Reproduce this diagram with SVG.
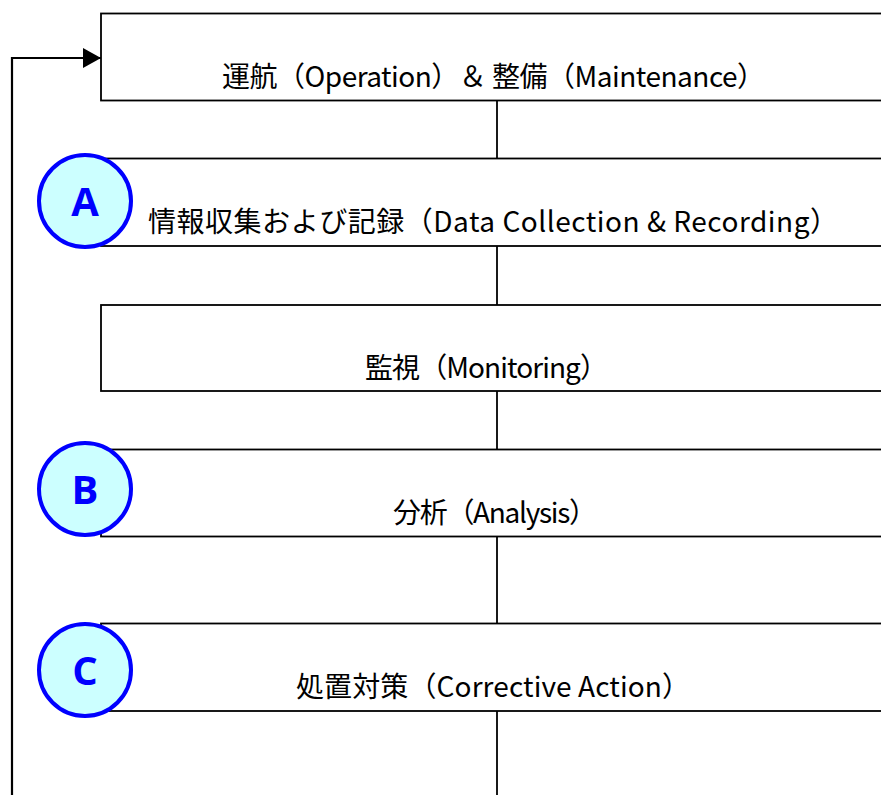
<svg xmlns="http://www.w3.org/2000/svg" width="881" height="795" viewBox="0 0 881 795">
<defs>
<style>
.box{fill:#fff;stroke:#000;stroke-width:1.8}
.lbl{font-family:"Noto Sans CJK JP","Noto Sans",sans-serif;font-size:28px;fill:#000}
.conn{stroke:#000;stroke-width:1.8;fill:none}
.badge circle{fill:#CCFFFF;stroke:#0000FF;stroke-width:4}
.badge text{font-family:"Open Sans","Liberation Sans",sans-serif;font-weight:bold;font-size:40px;fill:#0000FF;text-anchor:middle}
</style>
<marker id="arr" markerWidth="18" markerHeight="20" refX="18" refY="10" orient="auto" markerUnits="userSpaceOnUse">
<path d="M0,0 L18,10 L0,20 Z" fill="#000"/>
</marker>
</defs>
<rect width="881" height="795" fill="#fff"/>
<g id="connectors">
<line class="conn" x1="497" y1="101" x2="497" y2="158"/>
<line class="conn" x1="497" y1="246" x2="497" y2="305"/>
<line class="conn" x1="497" y1="391" x2="497" y2="449"/>
<line class="conn" x1="497" y1="537" x2="497" y2="623"/>
<line class="conn" x1="497" y1="711" x2="497" y2="800"/>
<path d="M12,800 L12,58 L101,58" fill="none" stroke="#000" stroke-width="2.2" marker-end="url(#arr)"/>
</g>
<g id="n1">
<rect class="box" x="101" y="13.5" width="800" height="87"/>
<text class="lbl" x="222" y="87" textLength="543" lengthAdjust="spacing">運航（Operation）＆ 整備（Maintenance）</text>
</g>
<g id="n2">
<rect class="box" x="101" y="158.5" width="800" height="87.5"/>
<text class="lbl" x="148" y="232" textLength="690" lengthAdjust="spacing">情報収集および記録（Data Collection &amp; Recording）</text>
</g>
<g id="n3">
<rect class="box" x="101" y="305" width="800" height="86"/>
<text class="lbl" x="365" y="378" textLength="243" lengthAdjust="spacing">監視（Monitoring）</text>
</g>
<g id="n4">
<rect class="box" x="101" y="449.5" width="800" height="87"/>
<text class="lbl" x="393" y="523" textLength="204" lengthAdjust="spacing">分析（Analysis）</text>
</g>
<g id="n5">
<rect class="box" x="101" y="623.5" width="800" height="87.5"/>
<text class="lbl" x="296" y="697" textLength="394" lengthAdjust="spacing">処置対策（Corrective Action）</text>
</g>
<g id="badgeA" class="badge">
<circle cx="85" cy="201" r="46"/>
<text x="85" y="216">A</text>
</g>
<g id="badgeB" class="badge">
<circle cx="85" cy="489" r="46"/>
<text x="85" y="504">B</text>
</g>
<g id="badgeC" class="badge">
<circle cx="85" cy="670" r="46"/>
<text x="85" y="685">C</text>
</g>
</svg>
